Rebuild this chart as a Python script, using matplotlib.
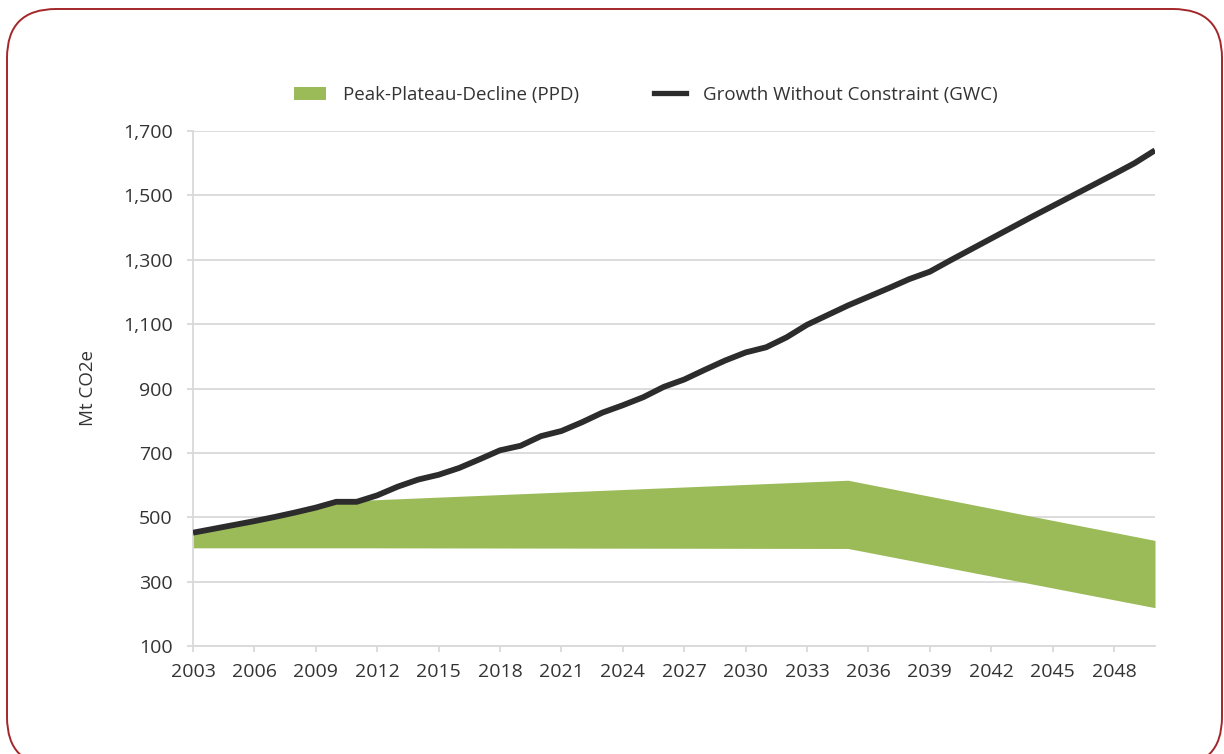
import matplotlib.pyplot as plt
from matplotlib.lines import Line2D
from matplotlib.patches import FancyBboxPatch, Patch

# Growth Without Constraint, one value per year
gwc_years = list(range(2003, 2051))
gwc_values = [
    452, 464, 476, 488, 501, 515, 530, 548, 548, 568,
    595, 617, 632, 653, 680, 708, 722, 752, 768, 795,
    825, 848, 873, 905, 928, 958, 987, 1012, 1028, 1059,
    1098, 1128, 1158, 1185, 1212, 1240, 1263, 1298, 1332, 1366,
    1400, 1434, 1467, 1500, 1533, 1566, 1600, 1640,
]

# Peak-Plateau-Decline band, upper and lower bounds at break years
ppd_years = [2003, 2006, 2009, 2010, 2011, 2035, 2050]
ppd_upper = [458, 492, 533, 550, 552, 615, 428]
ppd_lower = [405, 405, 405, 405, 405, 403, 219]

x_ticks = list(range(2003, 2050, 3))
y_ticks = list(range(100, 1701, 200))

GREEN = "#9bbb59"
LINE = "#2c2c2c"
GRID = "#d9d9d9"
TEXT = "#333333"
BORDER = "#a3262a"

plt.rcParams["font.family"] = ["Open Sans", "DejaVu Sans"]

fig = plt.figure(figsize=(12.24, 7.54), dpi=100)

# rounded frame around the chart
frame = FancyBboxPatch(
    (7 / 1224, -12 / 754),
    1215 / 1224,
    757 / 754,
    boxstyle="round,pad=0,rounding_size=0.04",
    transform=fig.transFigure,
    facecolor="none",
    edgecolor=BORDER,
    linewidth=1.4,
    mutation_aspect=1224 / 754,
)
fig.patches.append(frame)

ax = fig.add_axes([193 / 1224, 1 - 646 / 754, 962 / 1224, 515 / 754])

ax.fill_between(
    ppd_years,
    ppd_lower,
    ppd_upper,
    color=GREEN,
    linewidth=0,
    zorder=2,
)

ax.plot(
    gwc_years,
    gwc_values,
    color=LINE,
    linewidth=4.2,
    solid_capstyle="butt",
    zorder=3,
)

ax.set_xlim(2003, 2050)
ax.set_ylim(100, 1700)
ax.set_xticks(x_ticks)
ax.set_yticks(y_ticks)
ax.set_yticklabels([f"{v:,}" for v in y_ticks])

ax.grid(axis="y", color=GRID, linewidth=1.3, zorder=0)
ax.set_axisbelow(True)

for side in ("top", "right"):
    ax.spines[side].set_visible(False)
for side in ("left", "bottom"):
    ax.spines[side].set_color(GRID)
    ax.spines[side].set_linewidth(1.3)

ax.tick_params(
    axis="both",
    colors=GRID,
    labelcolor=TEXT,
    labelsize=14,
    width=1.3,
)
ax.tick_params(axis="x", length=4, pad=8)
ax.tick_params(axis="y", length=4.5, pad=10)

ax.set_ylabel("Mt CO2e", fontsize=13.5, color=TEXT, labelpad=19)

handles = [
    Patch(facecolor=GREEN, edgecolor="none", label="Peak-Plateau-Decline (PPD)"),
    Line2D([0], [0], color=LINE, linewidth=3.8, label="Growth Without Constraint (GWC)"),
]
ax.legend(
    handles=handles,
    ncol=2,
    loc="lower center",
    bbox_to_anchor=(0.471, 1.02),
    frameon=False,
    fontsize=13.5,
    labelcolor=TEXT,
    handlelength=1.7,
    handleheight=0.7,
    handletextpad=0.9,
    columnspacing=4.0,
)

fig.savefig("out.png", dpi=100)
